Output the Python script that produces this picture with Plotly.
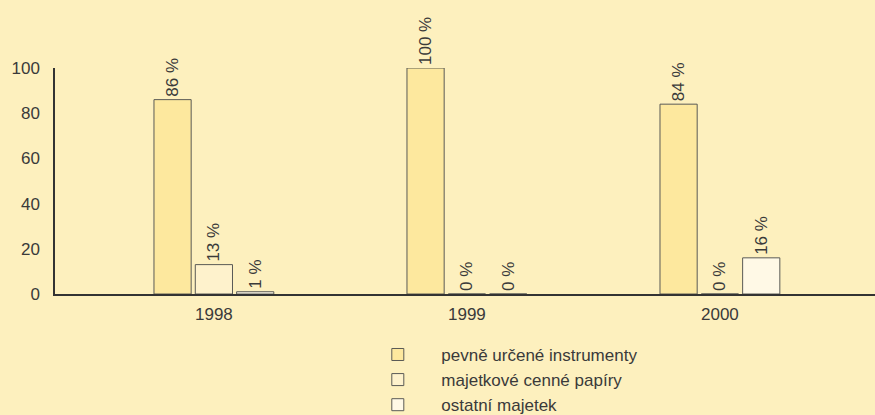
import plotly.graph_objects as go

# ── Data ──────────────────────────────────────────────────────────────────────
years = ["1998", "1999", "2000"]
series_names = [
    "pevně určené instrumenty",
    "majetkové cenné papíry",
    "ostatní majetek",
]
pevne = [86, 100, 84]
majetkove = [13, 0, 0]
ostatni = [1, 0, 16]

colors = ["#FDE89E", "#FEF2CC", "#FFF9E6"]
BG = "#FDF0BE"
INK = "#3a3a3a"

fig = go.Figure()
for i, (name, vals, col) in enumerate(zip(series_names, [pevne, majetkove, ostatni], colors)):
    fig.add_trace(go.Bar(
        x=years,
        y=vals,
        name=name,
        legendgroup=f"g{i}",
        marker=dict(color=col, line=dict(color="#5a5a55", width=1)),
        text=[f"{v} %" for v in vals],
        textposition="outside",
        textangle=-90,
        constraintext="none",
        cliponaxis=False,
        textfont=dict(size=17, color=INK),
    ))

fig.update_layout(
    width=875,
    height=415,
    paper_bgcolor=BG,
    plot_bgcolor=BG,
    barmode="group",
    bargap=0.51,
    bargroupgap=0.1,
    margin=dict(l=55, r=0, t=68, b=121, autoexpand=False),
    font=dict(family="Liberation Sans, Arial, sans-serif", size=17, color=INK),
    xaxis=dict(
        range=[-0.628, 2.613],
        showline=True,
        linecolor="#333333",
        linewidth=1.5,
        ticks="",
        showgrid=False,
        ticklabelstandoff=4,
        tickfont=dict(size=17),
    ),
    yaxis=dict(
        range=[0, 100],
        tickvals=[0, 20, 40, 60, 80, 100],
        showline=True,
        linecolor="#333333",
        linewidth=1.5,
        showgrid=False,
        zeroline=False,
        ticks="",
        ticklabelstandoff=10,
        tickfont=dict(size=17),
    ),
    legend=dict(
        x=0.365,
        y=-0.19,
        xanchor="left",
        yanchor="top",
        bgcolor="rgba(0,0,0,0)",
        font=dict(size=17),
        tracegroupgap=0,
        itemwidth=77,
    ),
    showlegend=True,
)

html = fig.to_html(full_html=True, config={"displayModeBar": False})
html = html.replace("<head>", "<head><style>body{margin:0;padding:0}</style>", 1)
with open("out.html", "w", encoding="utf-8") as f:
    f.write(html)
